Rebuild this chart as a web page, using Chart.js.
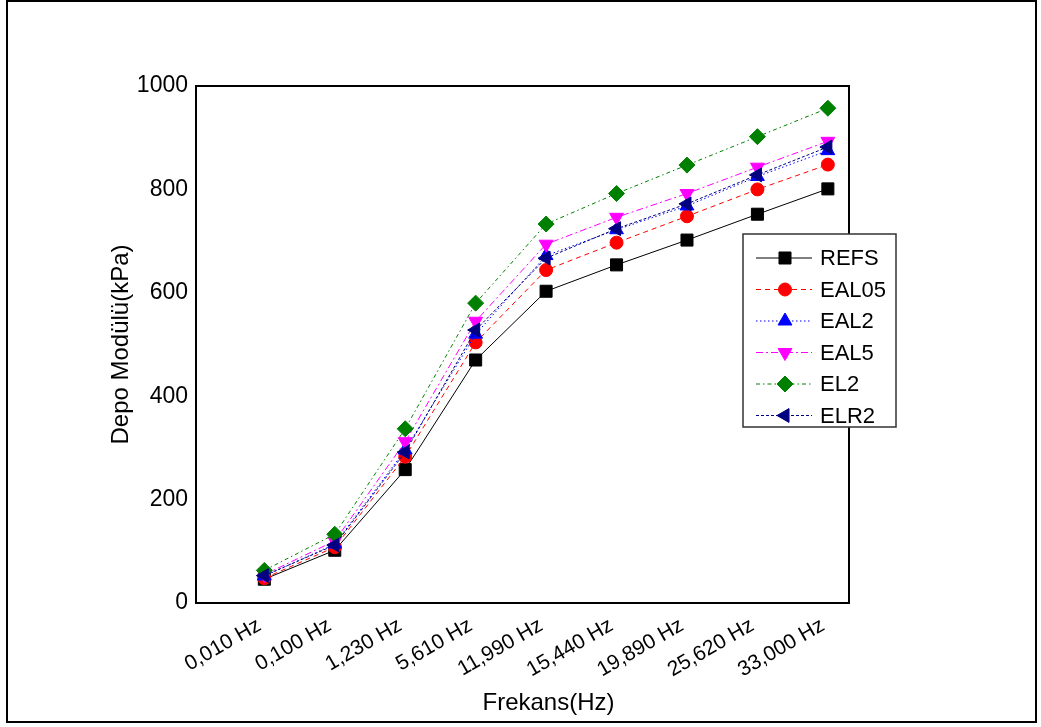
<!DOCTYPE html>
<html>
<head>
<meta charset="utf-8">
<title>Depo Modülü</title>
<script src="https://cdn.jsdelivr.net/npm/chart.js@4.4.1/dist/chart.umd.min.js"></script>
<style>
  html, body { margin: 0; padding: 0; background: #fff; }
  #frame  { position: absolute; left: 6px; top: 0; width: 1031px; height: 723px; border: 2px solid #000; box-sizing: border-box; }
  #chart  { position: absolute; left: 0; top: 0; }
</style>
</head>
<body>
<div id="frame"></div>
<canvas id="chart" width="1041" height="727"></canvas>
<script>
// frequency sweep labels (x axis)
var frequencies = ['0,010 Hz', '0,100 Hz', '1,230 Hz', '5,610 Hz', '11,990 Hz', '15,440 Hz', '19,890 Hz', '25,620 Hz', '33,000 Hz'];

// storage modulus per sample, kPa
var refs  = [46, 102, 258, 470, 603, 654, 702, 752, 801];
var eal05 = [48, 108, 283, 504, 644, 697, 748, 800, 848];
var eal2  = [52, 114, 296, 520, 672, 722, 768, 825, 875];
var eal5  = [55, 120, 312, 545, 694, 746, 792, 843, 893];
var el2   = [63, 133, 337, 580, 733, 792, 847, 902, 957];
var elr2  = [53, 112, 292, 528, 667, 724, 772, 828, 882];

var yTicks = [0, 200, 400, 600, 800, 1000];

var seriesNames  = ['REFS', 'EAL05', 'EAL2', 'EAL5', 'EL2', 'ELR2'];
var seriesValues = [refs, eal05, eal2, eal5, el2, elr2];

// line / marker look for each series, same order as seriesNames
var seriesStyle = [
  { color: '#000000', dash: [],              point: 'rect',     rot: 0,   r: 8.5 },
  { color: '#ff0000', dash: [5, 4],          point: 'circle',   rot: 0,   r: 6.5 },
  { color: '#0000ff', dash: [1.5, 2.5],      point: 'triangle', rot: 0,   r: 8 },
  { color: '#ff00ff', dash: [7, 3, 2, 3],    point: 'triangle', rot: 180, r: 8 },
  { color: '#008000', dash: [4, 3, 1.5, 3],  point: 'rectRot',  rot: 0,   r: 8 },
  { color: '#000080', dash: [3, 2],          point: 'triangle', rot: -90, r: 8 }
];

var FONT = "'Liberation Sans', Arial, sans-serif";

var datasets = seriesNames.map(function(name, i) {
  var s = seriesStyle[i];
  return {
    label: name,
    data: seriesValues[i].map(function(v, j) { return { x: j, y: v }; }),
    borderColor: s.color,
    backgroundColor: s.color,
    borderWidth: 1,
    borderDash: s.dash,
    pointStyle: s.point,
    pointRotation: s.rot,
    pointRadius: s.r,
    pointBorderWidth: 1,
    pointBackgroundColor: s.color,
    pointBorderColor: s.color,
    tension: 0,
    order: seriesNames.length - i   // later series on top
  };
});

// plot frame, x title and the boxed legend
var decorations = {
  id: 'decorations',
  afterDraw: function(chart) {
    var ctx = chart.ctx, a = chart.chartArea;
    ctx.save();
    ctx.strokeStyle = '#000';
    ctx.lineWidth = 2;
    ctx.setLineDash([]);
    ctx.strokeRect(a.left, a.top, a.right - a.left, a.bottom - a.top);

    ctx.fillStyle = '#000';
    ctx.font = '24px ' + FONT;
    ctx.textAlign = 'center';
    ctx.textBaseline = 'middle';
    ctx.fillText('Frekans(Hz)', (a.left + a.right) / 2 + 26, 703);

    // legend
    var lx = a.right - 106, ly = a.top + 148, lw = 153, lh = 193;
    ctx.fillStyle = '#fff';
    ctx.fillRect(lx, ly, lw, lh);
    ctx.strokeStyle = '#333';
    ctx.lineWidth = 1.5;
    ctx.strokeRect(lx, ly, lw, lh);

    ctx.font = '22px ' + FONT;
    ctx.textAlign = 'left';
    seriesNames.forEach(function(name, i) {
      var s = seriesStyle[i];
      var y = ly + 24 + i * 31.5;
      ctx.strokeStyle = s.color;
      ctx.lineWidth = 1;
      ctx.setLineDash(s.dash);
      ctx.beginPath();
      ctx.moveTo(lx + 13, y);
      ctx.lineTo(lx + 69, y);
      ctx.stroke();
      ctx.setLineDash([]);
      ctx.fillStyle = s.color;
      Chart.helpers.drawPoint(ctx, { pointStyle: s.point, rotation: s.rot, radius: s.r, borderWidth: 1 }, lx + 42, y);
      ctx.fillStyle = '#000';
      ctx.fillText(name, lx + 77, y + 1);
    });
    ctx.restore();
  }
};

new Chart(document.getElementById('chart').getContext('2d'), {
  type: 'line',
  data: { datasets: datasets },
  options: {
    responsive: false,
    animation: false,
    layout: { padding: { top: 86, right: 192, left: 0, bottom: 0 } },
    plugins: { legend: { display: false }, tooltip: { enabled: false } },
    scales: {
      x: {
        type: 'linear',
        min: -0.97,
        max: 8.3,
        afterBuildTicks: function(scale) {
          scale.ticks = frequencies.map(function(_, i) { return { value: i }; });
        },
        afterFit: function(scale) { scale.height = 124; },
        grid: { display: false, drawTicks: false },
        border: { display: false },
        ticks: {
          autoSkip: false,
          minRotation: 30,
          maxRotation: 30,
          padding: 10,
          labelOffset: -5,
          color: '#000',
          font: { family: FONT, size: 21 },
          callback: function(v) { return frequencies[v]; }
        }
      },
      y: {
        min: 0,
        max: 1000,
        afterBuildTicks: function(scale) {
          scale.ticks = yTicks.map(function(v) { return { value: v }; });
        },
        afterFit: function(scale) { scale.width = 196; },
        grid: { display: false, drawTicks: false },
        border: { display: false },
        ticks: {
          padding: 8,
          color: '#000',
          font: { family: FONT, size: 23 },
          callback: function(v) { return String(v); }
        },
        title: {
          display: true,
          text: 'Depo Modülü(kPa)',
          color: '#000',
          font: { family: FONT, size: 24 },
          padding: { top: 107, bottom: 0 }
        }
      }
    }
  },
  plugins: [decorations]
});
</script>
</body>
</html>
